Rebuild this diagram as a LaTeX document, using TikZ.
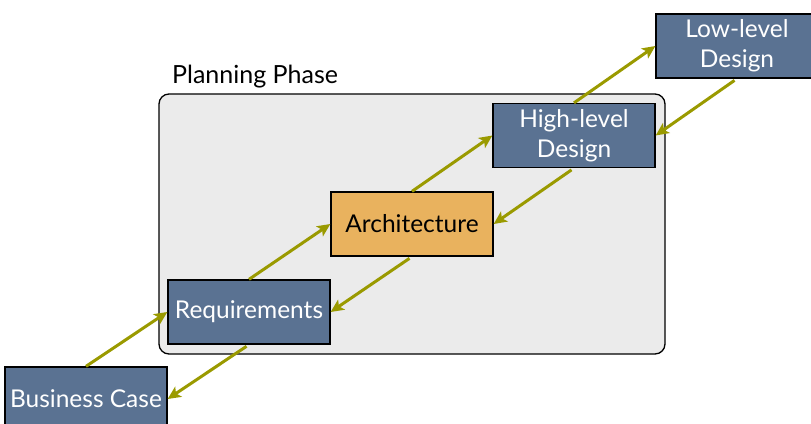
\documentclass[tikz,border=0pt]{standalone}
\usepackage{fontspec}
\setmainfont{Lato}
\usetikzlibrary{arrows.meta}

\definecolor{slate}{HTML}{5A7292}
\definecolor{sand}{HTML}{E9B25E}
\definecolor{olivearrow}{HTML}{9A9A00}
\definecolor{phasegray}{HTML}{EBEBEB}

\begin{document}
\begin{tikzpicture}[x=1pt,y=-1pt,
    phase/.style={draw=black, line width=1.3pt, fill=slate, text=white,
      minimum width=162pt, minimum height=64pt, align=center,
      font=\fontsize{24.5}{30}\selectfont, inner sep=2pt},
    keyphase/.style={phase, fill=sand, text=black},
    flow/.style={draw=olivearrow, line width=3pt,
      -{Stealth[length=13pt,width=12pt,inset=3pt]}}]
  \useasboundingbox (0,0) rectangle (811,423);
  % planning phase frame
  \draw[fill=phasegray, line width=1.3pt, rounded corners=10pt] (159,94) rectangle (665,354);
  \node[anchor=base west, font=\fontsize{25}{29}\selectfont, inner sep=0pt] (planlabel) at (172,83) {Planning Phase};
  % the five phases
  \node [phase] (bizcase) at (86,399) {Business Case};
  \node [phase] (req) at (249,312) {Requirements};
  \node [keyphase] (arch) at (412,224) {Architecture};
  \node [phase] (hld) at (574,135.5) {High-level\\Design};
  \node [phase] (lld) at (737,46) {Low-level\\Design};
  % going up
  \draw[flow] (bizcase.north) -- (req.west);
  \draw[flow] (req.north) -- (arch.west);
  \draw[flow] (arch.north) -- (hld.west);
  \draw[flow] (hld.north) -- (lld.west);
  % coming back
  \draw[flow, shorten <=3pt] (lld.south) -- (hld.east);
  \draw[flow, shorten <=3pt] (hld.south) -- (arch.east);
  \draw[flow, shorten <=3pt] (arch.south) -- (req.east);
  \draw[flow, shorten <=3pt] (req.south) -- (bizcase.east);
\end{tikzpicture}
\end{document}
